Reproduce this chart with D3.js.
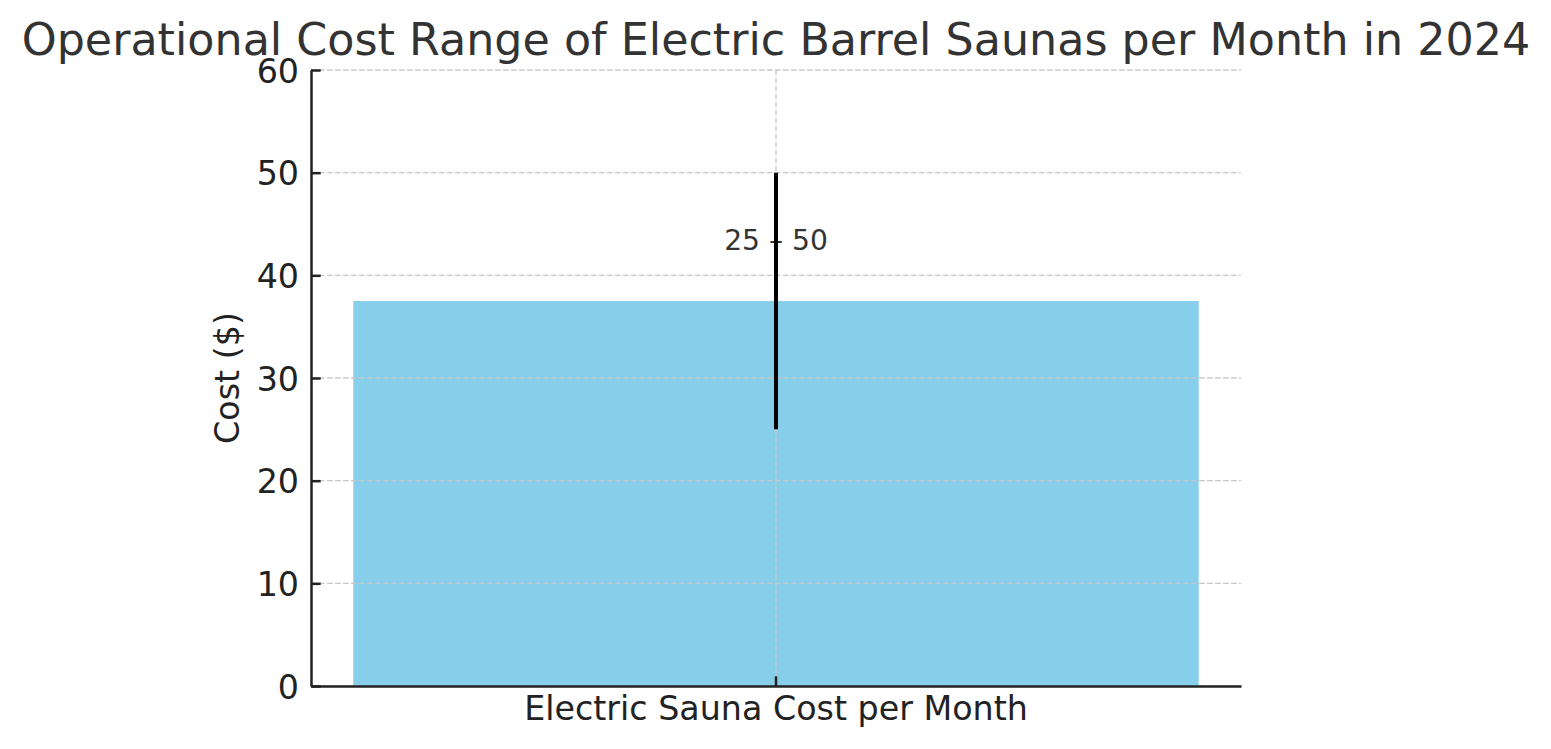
<!DOCTYPE html>
<html>
<head>
<meta charset="utf-8">
<script src="https://cdn.jsdelivr.net/npm/d3@7"></script>
<style>
  html, body { margin: 0; padding: 0; background: #fff; }
  svg { display: block; font-family: "DejaVu Sans", sans-serif; }
</style>
</head>
<body>
<svg id="chart" width="1551" height="749"></svg>
<script>
const title = "Operational Cost Range of Electric Barrel Saunas per Month in 2024";
const categories = ["Electric Sauna Cost per Month"];
const lowValues = [25];
const highValues = [50];
const yTicks = [0, 10, 20, 30, 40, 50, 60];
const yLabel = "Cost ($)";

const midValues = categories.map((c, i) => (lowValues[i] + highValues[i]) / 2);
const rangeLabels = categories.map((c, i) => `${lowValues[i]} \u2013 ${highValues[i]}`);

const svg = d3.select("#chart");
const m = { left: 311, right: 1241, top: 70, bottom: 686 };

const x = d3.scaleBand().domain(categories).range([m.left, m.right])
  .paddingInner(0).paddingOuter(0.05);
const y = d3.scaleLinear().domain([0, 60]).range([m.bottom, m.top]);

// bars
svg.append("g").selectAll("rect").data(categories).join("rect")
  .attr("x", d => x(d))
  .attr("width", x.bandwidth())
  .attr("y", (d, i) => y(midValues[i]))
  .attr("height", (d, i) => y(0) - y(midValues[i]))
  .attr("fill", "#87CEEB");

// grid (on top of bars)
const grid = svg.append("g").attr("stroke", "#c8c8c8").attr("stroke-width", 1.3)
  .attr("stroke-dasharray", "5.5,2.5");
grid.selectAll("line.h").data(yTicks).join("line").attr("class", "h")
  .attr("x1", m.left).attr("x2", m.right)
  .attr("y1", d => y(d)).attr("y2", d => y(d));
grid.selectAll("line.v").data(categories).join("line").attr("class", "v")
  .attr("x1", d => x(d) + x.bandwidth() / 2).attr("x2", d => x(d) + x.bandwidth() / 2)
  .attr("y1", m.top).attr("y2", m.bottom);

// range labels
svg.append("g").selectAll("text").data(categories).join("text")
  .attr("x", d => x(d) + x.bandwidth() / 2)
  .attr("y", (d, i) => y(midValues[i] + 5))
  .attr("text-anchor", "middle")
  .attr("font-size", 28.2)
  .attr("fill", "#333")
  .text((d, i) => rangeLabels[i]);

// error bars
svg.append("g").selectAll("line").data(categories).join("line")
  .attr("x1", d => x(d) + x.bandwidth() / 2).attr("x2", d => x(d) + x.bandwidth() / 2)
  .attr("y1", (d, i) => y(lowValues[i])).attr("y2", (d, i) => y(highValues[i]))
  .attr("stroke", "#000").attr("stroke-width", 4);

// axes
const yAxis = svg.append("g").attr("transform", `translate(${m.left},0)`)
  .call(d3.axisLeft(y).tickValues(yTicks).tickSizeInner(-9.7).tickSizeOuter(0).tickPadding(12));
const xAxis = svg.append("g").attr("transform", `translate(0,${m.bottom})`)
  .call(d3.axisBottom(x).tickSizeInner(-9.7).tickSizeOuter(0).tickPadding(12));

[yAxis, xAxis].forEach(a => {
  a.select(".domain").attr("stroke", "#222").attr("stroke-width", 2.5);
  a.selectAll(".tick line").attr("stroke", "#222").attr("stroke-width", 2.5);
  a.selectAll(".tick text").attr("font-size", 33.3).attr("fill", "#222")
    .attr("font-family", "DejaVu Sans, sans-serif");
});
xAxis.selectAll(".tick text").attr("dy", null).attr("y", 34);
yAxis.selectAll(".tick text").attr("x", -12).attr("dy", "0.36em");

// y label
svg.append("text")
  .attr("transform", `translate(239,${(m.top + m.bottom) / 2}) rotate(-90)`)
  .attr("text-anchor", "middle")
  .attr("font-size", 33.3)
  .attr("fill", "#222")
  .text(yLabel);

// title
svg.append("text")
  .attr("x", (m.left + m.right) / 2)
  .attr("y", 55)
  .attr("text-anchor", "middle")
  .attr("font-size", 44.4)
  .attr("fill", "#333")
  .text(title);
</script>
</body>
</html>
